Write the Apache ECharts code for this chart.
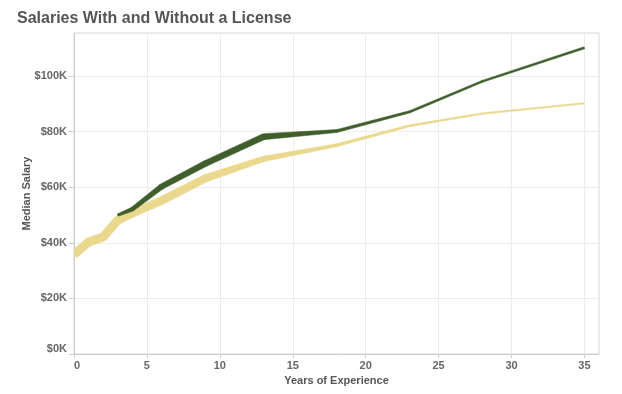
<!DOCTYPE html>
<html>
<head>
<meta charset="utf-8">
<script src="https://cdn.jsdelivr.net/npm/echarts@6/dist/echarts.min.js"></script>
<style>
html,body{margin:0;padding:0;background:#fff;}
#chart{width:622px;height:394px;}
</style>
</head>
<body>
<div id="chart"></div>
<script>
// ---- data ----
const noLicenseYears = [0, 1, 2, 3, 4, 6, 9, 13, 18, 23, 28, 35];
const noLicenseSalary = [35800, 40300, 42100, 48200, 50600, 55200, 63200, 70200, 75100, 82100, 86500, 90200];
const noLicenseSize = [8.5, 8.5, 8.5, 8.5, 8, 8, 7.5, 5.5, 3, 2, 1.5, 1.5];

const licenseYears = [3, 4, 6, 9, 13, 18, 23, 28, 35];
const licenseSalary = [50000, 52100, 60200, 68500, 78200, 80200, 87100, 98100, 110200];
const licenseSize = [2.5, 4, 5.5, 6, 6, 3, 2.2, 2, 2];

const xTicks = [0, 5, 10, 15, 20, 25, 30, 35];
const yTicks = [0, 20000, 40000, 60000, 80000, 100000];

// ---- build segments ----
function segments(xs, ys, ss) {
  const out = [];
  for (let i = 0; i < xs.length - 1; i++) {
    out.push([xs[i], ys[i], xs[i + 1], ys[i + 1], ss[i], ss[i + 1], i]);
  }
  return out;
}

function makeRender(color) {
  return function (params, api) {
    const p0 = api.coord([api.value(0), api.value(1)]);
    const p1 = api.coord([api.value(2), api.value(3)]);
    const w0 = api.value(4), w1 = api.value(5);
    const idx = api.value(6);
    const dx = p1[0] - p0[0], dy = p1[1] - p0[1];
    const len = Math.sqrt(dx * dx + dy * dy) || 1;
    const nx = -dy / len, ny = dx / len;
    const pts = [
      [p0[0] + nx * w0 / 2, p0[1] + ny * w0 / 2],
      [p1[0] + nx * w1 / 2, p1[1] + ny * w1 / 2],
      [p1[0] - nx * w1 / 2, p1[1] - ny * w1 / 2],
      [p0[0] - nx * w0 / 2, p0[1] - ny * w0 / 2]
    ];
    const children = [{
      type: 'polygon',
      shape: { points: pts },
      style: { fill: color, stroke: color, lineWidth: 0.5 }
    }];
    if (idx > 0) {
      children.push({
        type: 'circle',
        shape: { cx: p0[0], cy: p0[1], r: w0 / 2 },
        style: { fill: color }
      });
    }
    return { type: 'group', children: children };
  };
}

const YELLOW = '#ead88f';
const GREEN = '#3f5e2c';
const labelColor = '#666';
const FONT = 'Liberation Sans, Arial, sans-serif';

const chart = echarts.init(document.getElementById('chart'), null, { renderer: 'canvas' });
chart.setOption({
  animation: false,
  backgroundColor: '#fff',
  title: {
    text: 'Salaries With and Without a License',
    left: 12, top: 6,
    textStyle: { fontFamily: FONT, fontSize: 16, fontWeight: 'bold', color: '#555' }
  },
  grid: {
    left: 74, right: 23, top: 33, bottom: 40,
    show: true, borderColor: '#d6d6d6', borderWidth: 1
  },
  xAxis: {
    type: 'value', min: 0, max: 36,
    name: 'Years of Experience', nameLocation: 'middle', nameGap: 21,
    nameMoveOverlap: false,
    nameTextStyle: { fontFamily: FONT, fontSize: 11, fontWeight: 'bold', color: '#555' },
    axisLine: { show: true, lineStyle: { color: '#cfcfcf' } },
    axisTick: { show: true, length: 4, lineStyle: { color: '#cfcfcf' }, customValues: xTicks },
    axisLabel: {
      customValues: xTicks, margin: 6, alignMinLabel: 'left',
      fontFamily: FONT, fontSize: 11, fontWeight: 'bold', color: labelColor
    },
    splitLine: { show: true, lineStyle: { color: '#ececec' } }
  },
  yAxis: {
    type: 'value', min: 0, max: 115500,
    name: 'Median Salary', nameLocation: 'middle', nameGap: 42, nameRotate: 90,
    nameMoveOverlap: false,
    nameTextStyle: { fontFamily: FONT, fontSize: 11, fontWeight: 'bold', color: '#555' },
    axisLine: { show: true, lineStyle: { color: '#cfcfcf' } },
    axisTick: { show: true, length: 5, lineStyle: { color: '#cfcfcf' }, customValues: yTicks },
    axisLabel: {
      customValues: yTicks, margin: 7, verticalAlignMinLabel: 'bottom',
      fontFamily: FONT, fontSize: 11, fontWeight: 'bold', color: labelColor,
      formatter: function (v) { return '$' + Math.round(v / 1000) + 'K'; }
    },
    splitLine: { show: true, lineStyle: { color: '#ececec' } }
  },
  series: [
    {
      type: 'custom', name: 'Without License',
      renderItem: makeRender(YELLOW),
      data: segments(noLicenseYears, noLicenseSalary, noLicenseSize),
      encode: { x: [0, 2], y: [1, 3] },
      clip: true
    },
    {
      type: 'custom', name: 'With License',
      renderItem: makeRender(GREEN),
      data: segments(licenseYears, licenseSalary, licenseSize),
      encode: { x: [0, 2], y: [1, 3] },
      clip: true
    }
  ]
});
</script>
</body>
</html>
